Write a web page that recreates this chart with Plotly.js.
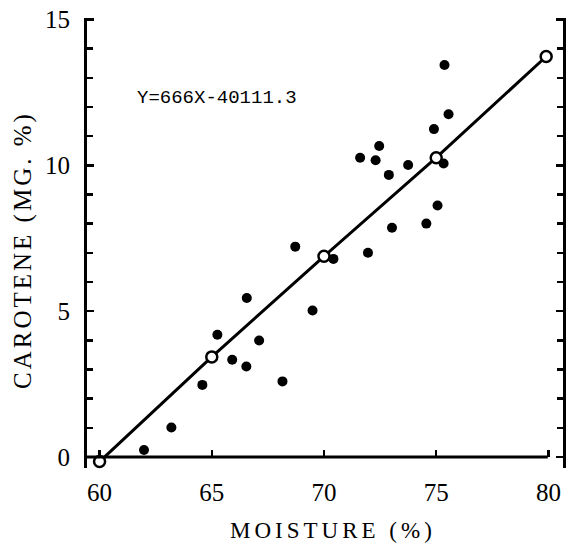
<!DOCTYPE html>
<html>
<head>
<meta charset="utf-8">
<script src="https://cdn.plot.ly/plotly-3.0.1.min.js"></script>
<style>
html,body{margin:0;padding:0;background:#fff;}
#chart{width:579px;height:543px;}
.annotation[data-index="1"] .annotation-text{letter-spacing:4px;}
.annotation[data-index="2"] .annotation-text{letter-spacing:3px;}
</style>
</head>
<body>
<div id="chart"></div>
<script>
// Observed samples: moisture (%) vs carotene (mg. %)
const moisture = [61.98, 63.20, 64.58, 65.25, 65.91, 66.56, 66.54, 67.11, 68.15, 68.72,
                  69.49, 70.42, 71.96, 71.61, 72.30, 72.46, 72.89, 73.03, 73.75, 74.56,
                  74.90, 75.06, 75.33, 75.37, 75.55];
const carotene = [0.24, 1.01, 2.47, 4.19, 3.33, 5.45, 3.10, 3.99, 2.59, 7.21,
                  5.02, 6.79, 7.00, 10.26, 10.17, 10.66, 9.67, 7.86, 10.01, 8.00,
                  11.24, 8.62, 10.06, 13.44, 11.75];
// Fitted regression line (open circles)
const fitX = [60.0, 65.0, 70.0, 75.0, 79.9];
const fitY = [-0.16, 3.43, 6.88, 10.26, 13.73];
const xTicks = [60, 65, 70, 75, 80];
const yTicks = [0, 5, 10, 15];
const equation = 'Y=666X-40111.3';

const serif = "'Liberation Serif', 'Times New Roman', Times, serif";
const mono = "'Liberation Mono', 'Courier New', monospace";

const traces = [
  {
    x: moisture, y: carotene, type: 'scatter', mode: 'markers',
    marker: {color: '#000', size: 10},
    cliponaxis: false, hoverinfo: 'skip'
  },
  {
    x: fitX, y: fitY, type: 'scatter', mode: 'lines+markers',
    line: {color: '#000', width: 3},
    marker: {color: '#fff', size: 11, line: {color: '#000', width: 2.5}},
    cliponaxis: false, hoverinfo: 'skip'
  }
];

const layout = {
  width: 579, height: 543,
  margin: {l: 87, r: 16, t: 18, b: 75},
  paper_bgcolor: '#fff', plot_bgcolor: '#fff',
  showlegend: false,
  font: {family: serif, color: '#000'},
  xaxis: {
    range: [59.44, 80.65],
    anchor: 'free', position: 0.0244,
    showgrid: false, zeroline: false, showline: false,
    tickmode: 'array', tickvals: xTicks, ticktext: xTicks.map(String),
    ticks: 'inside', ticklen: 7, tickwidth: 2.5, tickcolor: '#000',
    ticklabelstandoff: 18,
    tickfont: {family: serif, size: 25, color: '#000'}
  },
  yaxis: {
    range: [-0.38, 15.05],
    showgrid: false, zeroline: false,
    showline: true, linewidth: 3, linecolor: '#000', mirror: 'ticks',
    tickmode: 'array', tickvals: yTicks, ticktext: yTicks.map(String),
    ticks: 'inside', ticklen: 7, tickwidth: 2.5, tickcolor: '#000',
    minor: {dtick: 1, ticks: 'inside', ticklen: 6, tickwidth: 2.5, tickcolor: '#000'},
    ticklabelstandoff: 9,
    tickfont: {family: serif, size: 25, color: '#000'}
  },
  shapes: [
    {type: 'line', xref: 'paper', yref: 'y', x0: 0, x1: 0.968, y0: 0, y1: 0,
     line: {color: '#000', width: 3}}
  ],
  annotations: [
    {xref: 'paper', yref: 'paper', x: (217 - 87) / 476, y: (468 - 98) / 450,
     text: equation, showarrow: false, xanchor: 'center', yanchor: 'middle',
     font: {family: mono, size: 19, color: '#000'}},
    {xref: 'paper', yref: 'paper', x: (333 - 87) / 476, y: (468 - 530) / 450,
     text: 'MOISTURE (%)', showarrow: false, xanchor: 'center', yanchor: 'middle',
     font: {family: serif, size: 23, color: '#000'}},
    {xref: 'paper', yref: 'paper', x: (23 - 87) / 476, y: (468 - 250) / 450,
     text: 'CAROTENE (MG. %)', showarrow: false, textangle: -90,
     xanchor: 'center', yanchor: 'middle',
     font: {family: serif, size: 25, color: '#000'}}
  ]
};

Plotly.newPlot('chart', traces, layout, {staticPlot: true, displayModeBar: false});
</script>
</body>
</html>
